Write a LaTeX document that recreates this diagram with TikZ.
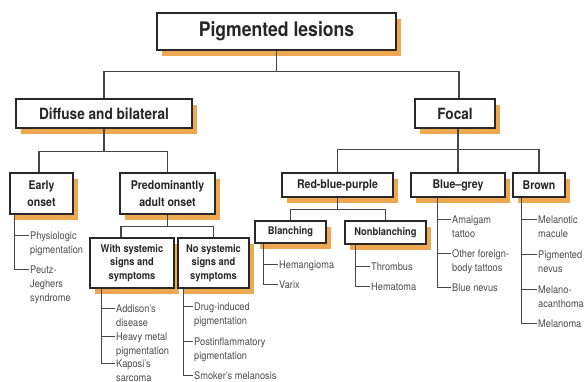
\documentclass[tikz,border=0pt]{standalone}
\usepackage{fontspec}
\setmainfont{TeX Gyre Heros}[FakeStretch=0.88]
\usetikzlibrary{calc,shadows}

\definecolor{shadoworange}{RGB}{238,168,82}
\definecolor{boxline}{RGB}{40,40,40}
\definecolor{linkgray}{RGB}{70,70,70}
\definecolor{leafgray}{RGB}{75,75,75}

\tikzset{
  box/.style={draw=boxline, line width=1.6pt, fill=white, text=black!85,
    align=center, inner sep=2pt,
    drop shadow={shadow xshift=4.5pt, shadow yshift=-5.5pt, fill=shadoworange, opacity=1}},
  rootfont/.style={font=\fontsize{20}{24}\selectfont\bfseries},
  bigfont/.style={font=\fontsize{15.5}{18}\selectfont\bfseries},
  midfont/.style={font=\fontsize{12}{16.5}\selectfont\bfseries},
  smallfont/.style={font=\fontsize{10.6}{13.3}\selectfont\bfseries},
  link/.style={draw=linkgray, line width=1.1pt},
  leafline/.style={draw=linkgray, line width=0.9pt},
  leaf/.style={anchor=north west, inner sep=0pt, align=left, text=leafgray,
    font=\fontsize{10.5}{14}\selectfont}
}

\begin{document}
\begin{tikzpicture}[x=1pt,y=-1pt]
    \useasboundingbox (0,0) rectangle (584,381);

    % Boxes
    \node[box, rootfont, minimum width=239pt, minimum height=37pt] (root) at (276.5,31.5) {Pigmented lesions};
    \node[box, bigfont, minimum width=176pt, minimum height=29pt] (diffuse) at (104,113.5) {Diffuse and bilateral};
    \node[box, bigfont, minimum width=80pt, minimum height=29pt] (focal) at (455,113.5) {Focal};
    \node[box, midfont, minimum width=63pt, minimum height=41pt] (early) at (41.5,193.5) {Early\\onset};
    \node[box, midfont, minimum width=95pt, minimum height=41pt] (adult) at (167.5,193.5) {Predominantly\\adult onset};
    \node[box, midfont, minimum width=111pt, minimum height=24pt] (rbp) at (337.5,185) {Red-blue-purple};
    \node[box, midfont, minimum width=94pt, minimum height=24pt] (bluegrey) at (458,185) {Blue--grey};
    \node[box, midfont, minimum width=52pt, minimum height=24pt] (brown) at (539,185) {Brown};
    \node[box, smallfont, minimum width=84pt, minimum height=50pt] (withsys) at (132,263) {With systemic\\signs and\\symptoms};
    \node[box, smallfont, minimum width=71pt, minimum height=50pt] (nosys) at (213.5,263) {No systemic\\signs and\\symptoms};
    \node[box, smallfont, minimum width=71pt, minimum height=22pt] (blanch) at (290.5,232) {Blanching};
    \node[box, smallfont, minimum width=81pt, minimum height=23pt] (nonblanch) at (385.5,232.5) {Nonblanching};

    % Tree links
    \draw[link] (root.south) -- ++(0,21) coordinate (j0);
    \draw[link] (j0) -| (diffuse.north);
    \draw[link] (j0) -| ([xshift=4pt]focal.north);
    \draw[link] (diffuse.south) -- ++(0,23) coordinate (j1);
    \draw[link] (j1) -| ([xshift=-2.5pt]early.north);
    \draw[link] (j1) -| (adult.north);
    \draw[link] (bluegrey.north) -- (bluegrey.north |- focal.south);
    \draw[link] (rbp.north) -- ++(0,-23) -| (brown.north);
    \draw[link] (adult.south) -- ++(0,12) coordinate (j3);
    \draw[link] (j3) -| ([xshift=-11pt]withsys.north);
    \draw[link] (j3) -| (nosys.north);
    \draw[link] (rbp.south) -- ++(0,12) coordinate (j4);
    \draw[link] (j4) -| (blanch.north);
    \draw[link] (j4) -| (nonblanch.north);

    % Early onset
    \node[leaf] (physio) at (30,231.2) {Physiologic\\pigmentation};
    \node[leaf] (peutz) at (30,265.2) {Peutz-\\Jeghers\\syndrome};
    \draw[leafline] ([xshift=5pt]early.south west) |- ($(peutz.north west)+(-1,3.8)$);
    \draw[leafline] ($(physio.north west)+(-1,3.8)$) -- ++(-14,0);

    % With systemic signs
    \node[leaf] (addison) at (116,304.2) {Addison's\\disease};
    \node[leaf] (heavy) at (116,332.2) {Heavy metal\\pigmentation};
    \node[leaf] (kaposi) at (116,359.2) {Kaposi's\\sarcoma};
    \draw[leafline] ([xshift=12pt]withsys.south west) |- ($(kaposi.north west)+(-1,3.8)$);
    \draw[leafline] ($(addison.north west)+(-1,3.8)$) -- ++(-13,0);
    \draw[leafline] ($(heavy.north west)+(-1,3.8)$) -- ++(-13,0);

    % No systemic signs
    \node[leaf] (drug) at (194,302.2) {Drug-induced\\pigmentation};
    \node[leaf] (postinfl) at (194,337.2) {Postinflammatory\\pigmentation};
    \node[leaf] (smoker) at (194,371.2) {Smoker's melanosis};
    \draw[leafline] ([xshift=6pt]nosys.south west) |- ($(smoker.north west)+(-1,3.8)$);
    \draw[leafline] ($(drug.north west)+(-1,3.8)$) -- ++(-9,0);
    \draw[leafline] ($(postinfl.north west)+(-1,3.8)$) -- ++(-9,0);

    % Blanching
    \node[leaf] (hemang) at (279,260.2) {Hemangioma};
    \node[leaf] (varix) at (279,280.2) {Varix};
    \draw[leafline] ([xshift=9pt]blanch.south west) |- ($(varix.north west)+(-1,3.8)$);
    \draw[leafline] ($(hemang.north west)+(-1,3.8)$) -- ++(-14,0);

    % Nonblanching
    \node[leaf] (thromb) at (371,262.2) {Thrombus};
    \node[leaf] (hemat) at (371,282.2) {Hematoma};
    \draw[leafline] ([xshift=11pt]nonblanch.south west) |- ($(hemat.north west)+(-1,3.8)$);
    \draw[leafline] ($(thromb.north west)+(-1,3.8)$) -- ++(-14,0);

    % Blue-grey
    \node[leaf] (amalgam) at (452,215.2) {Amalgam\\tattoo};
    \node[leaf] (foreign) at (452,249.2) {Other foreign-\\body tattoos};
    \node[leaf] (bluenev) at (452,283.2) {Blue nevus};
    \draw[leafline] ([xshift=27pt]bluegrey.south west) |- ($(bluenev.north west)+(-1,3.8)$);
    \draw[leafline] ($(amalgam.north west)+(-1,3.8)$) -- ++(-13,0);
    \draw[leafline] ($(foreign.north west)+(-1,3.8)$) -- ++(-13,0);

    % Brown
    \node[leaf] (macule) at (538,215.2) {Melanotic\\macule};
    \node[leaf] (pignev) at (538,250.2) {Pigmented\\nevus};
    \node[leaf] (acanth) at (538,285.2) {Melano-\\acanthoma};
    \node[leaf] (melanoma) at (538,319.2) {Melanoma};
    \draw[leafline] ([xshift=9pt]brown.south west) |- ($(melanoma.north west)+(-1,3.8)$);
    \draw[leafline] ($(macule.north west)+(-1,3.8)$) -- ++(-15,0);
    \draw[leafline] ($(pignev.north west)+(-1,3.8)$) -- ++(-15,0);
    \draw[leafline] ($(acanth.north west)+(-1,3.8)$) -- ++(-15,0);
\end{tikzpicture}
\end{document}
